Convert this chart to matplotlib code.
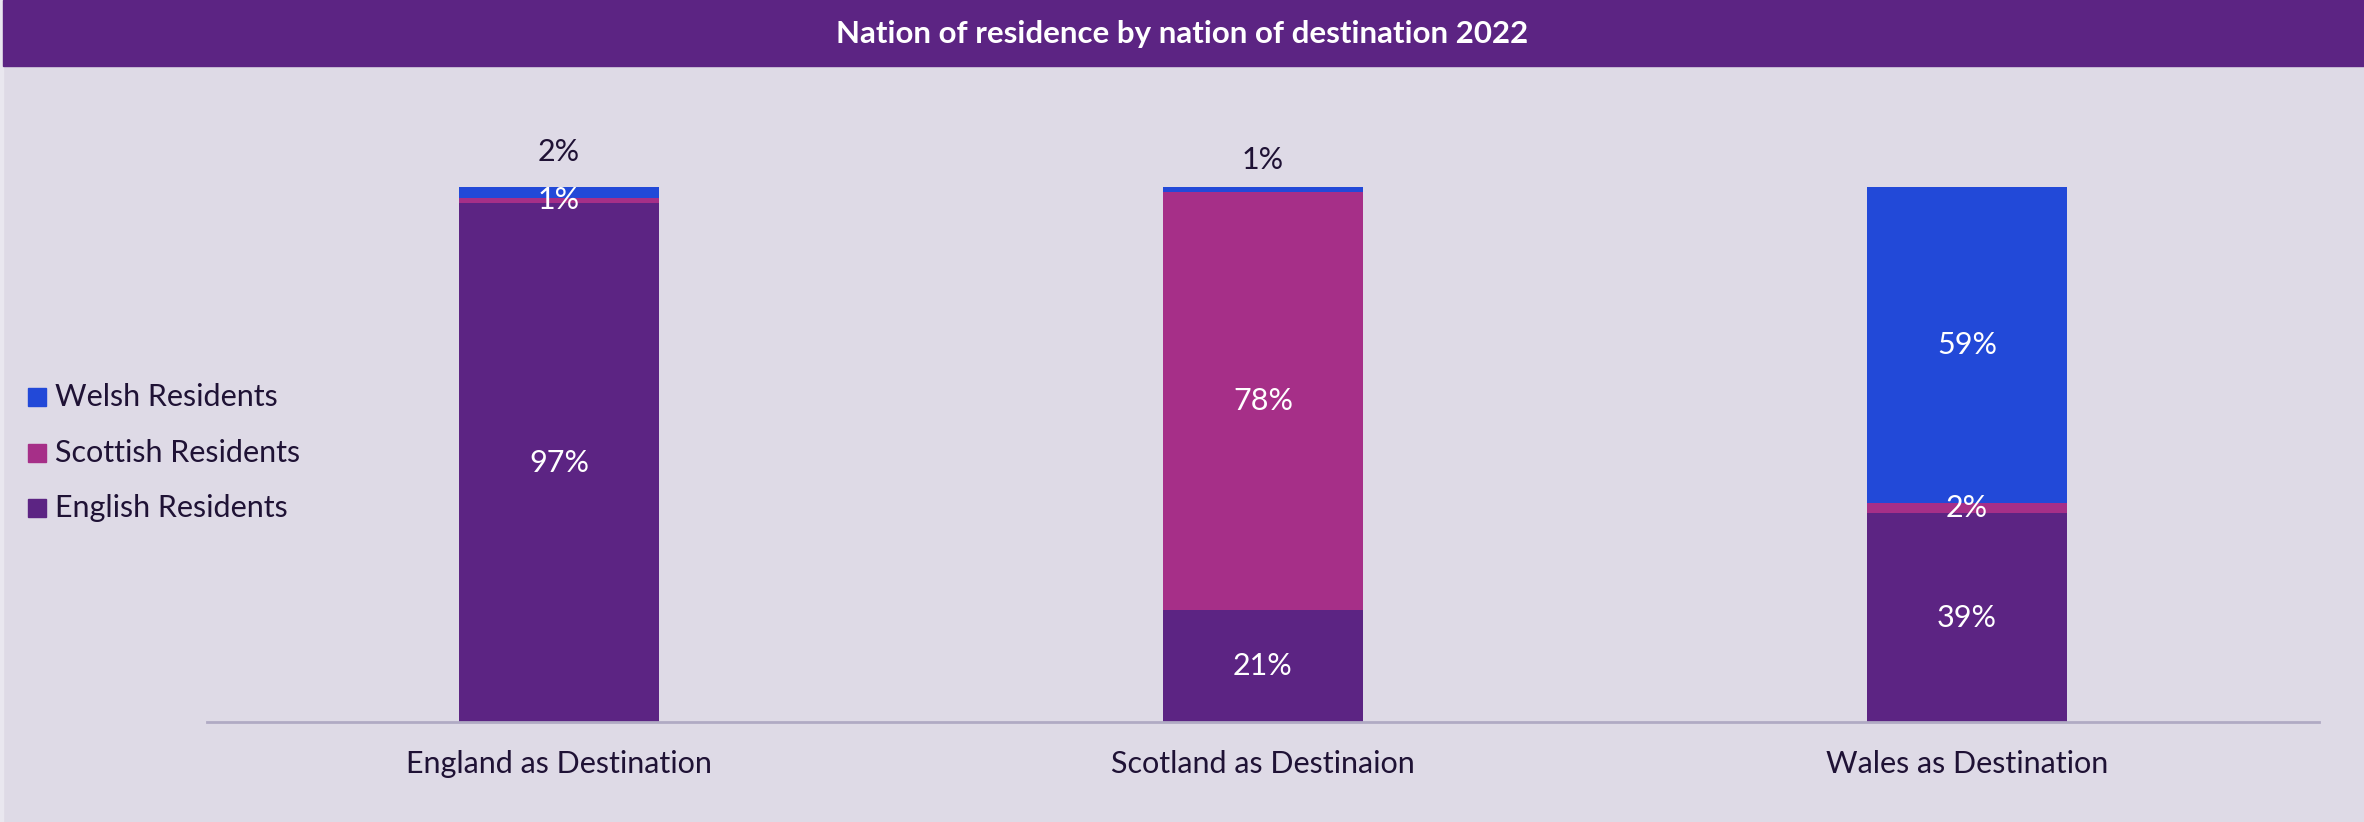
import matplotlib
matplotlib.use("Agg")
import matplotlib.pyplot as plt
from matplotlib.patches import Rectangle
import numpy as np

categories = ["England as Destination", "Scotland as Destinaion", "Wales as Destination"]
english = [97, 21, 39]
scottish = [1, 78, 2]
welsh = [2, 1, 59]
series_names = ["English Residents", "Scottish Residents", "Welsh Residents"]

BG = "#dedae6"
PURPLE = "#5c2483"
MAGENTA = "#a62f88"
BLUE = "#2249d8"
DARK = "#1f1235"
FONT = "Lato"

plt.rcParams['font.family'] = [FONT, 'DejaVu Sans']

W, H = 2364, 822
fig = plt.figure(figsize=(W / 100, H / 100), dpi=100, facecolor=BG)

# left light strip and title bar
fig.patches.append(Rectangle((0, 0), 3 / W, 1, transform=fig.transFigure, color="#e9e7ef", zorder=0))
fig.patches.append(Rectangle((3 / W, 1 - 66 / H), 1, 66 / H, transform=fig.transFigure, color=PURPLE, zorder=1))
fig.text(0.5, 1 - 34 / H, "Nation of residence by nation of destination 2022", color="white",
         fontsize=22.5, fontweight="bold", ha="center", va="center")

ax = fig.add_axes([207 / W, 100 / H, 2112 / W, 535 / H])
ax.set_facecolor(BG)
x = np.arange(len(categories))
bw = 0.284
eng = np.array(english)
sco = np.array(scottish)
wel = np.array(welsh)
ax.bar(x, eng, bw, color=PURPLE, label=series_names[0])
ax.bar(x, sco, bw, bottom=eng, color=MAGENTA, label=series_names[1])
ax.bar(x, wel, bw, bottom=eng + sco, color=BLUE, label=series_names[2])

ax.set_xlim(-0.5, len(categories) - 0.5)
ax.set_ylim(0, 100)
for s in ["top", "right", "left"]:
    ax.spines[s].set_visible(False)
ax.spines["bottom"].set_color("#b0aac4")
ax.spines["bottom"].set_linewidth(2)
ax.set_yticks([])
ax.set_xticks(x)
ax.set_xticklabels(categories, fontsize=22, color=DARK)
ax.tick_params(axis="x", length=0, pad=20)

# value labels
fs = 22
for i in range(len(categories)):
    ax.text(x[i], eng[i] / 2, f"{eng[i]}%", ha="center", va="center", color="white", fontsize=fs)
    if sco[i] >= 1:
        ax.text(x[i], eng[i] + sco[i] / 2, f"{sco[i]}%", ha="center", va="center", color="white", fontsize=fs)
    if wel[i] >= 5:
        ax.text(x[i], eng[i] + sco[i] + wel[i] / 2, f"{wel[i]}%", ha="center", va="center", color="white", fontsize=fs)
    else:
        off = 35 if wel[i] >= 2 else 27
        ax.annotate(f"{wel[i]}%", (x[i], 100), xytext=(0, off * 0.72), textcoords="offset points",
                    ha="center", va="center", color=DARK, fontsize=fs)

# legend (manual)
leg_items = [(series_names[2], BLUE, 397), (series_names[1], MAGENTA, 453), (series_names[0], PURPLE, 508)]
for name, col, yc in leg_items:
    fig.patches.append(Rectangle((28 / W, 1 - (yc + 9) / H), 18 / W, 18 / H, transform=fig.transFigure,
                                 color=col, zorder=2))
    fig.text(55 / W, 1 - yc / H, name, color=DARK, fontsize=22, ha="left", va="center")

fig.savefig("out.png", dpi=100, facecolor=BG)
